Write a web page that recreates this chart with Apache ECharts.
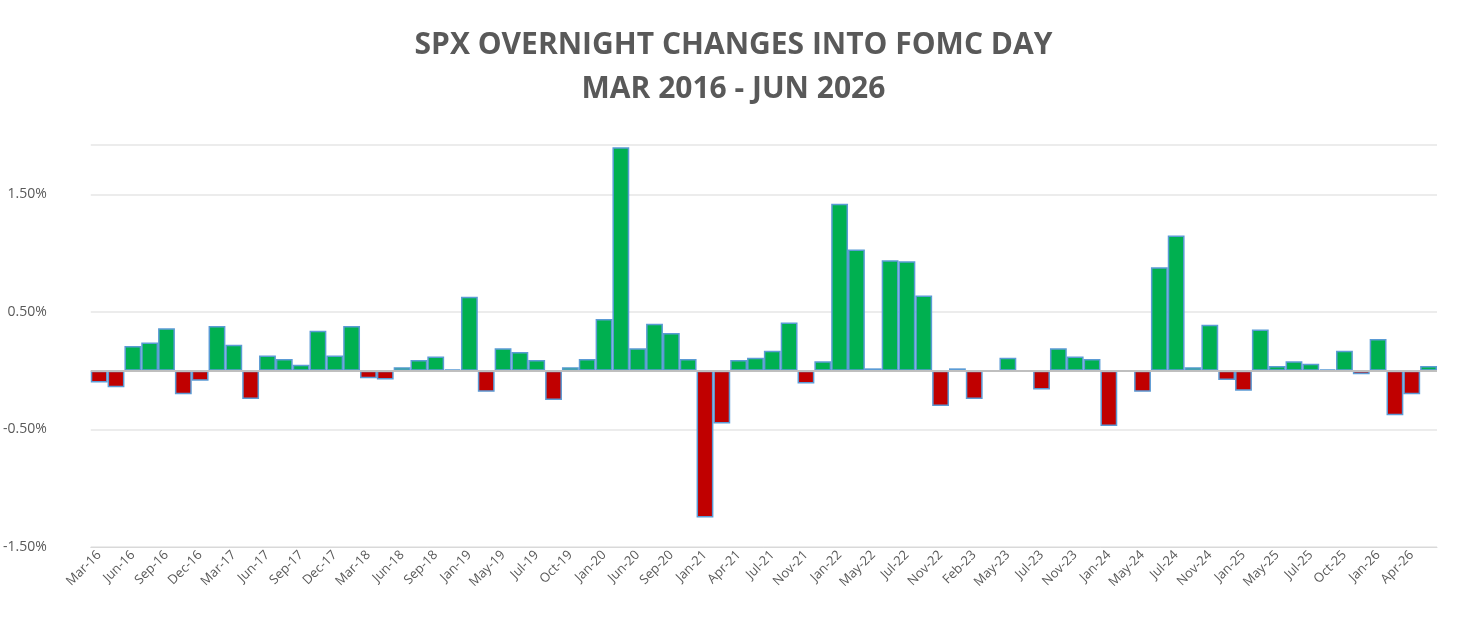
<!DOCTYPE html>
<html><head><meta charset="utf-8">
<script src="https://cdn.jsdelivr.net/npm/echarts@6/dist/echarts.min.js"></script>
<style>html,body{margin:0;background:#fff}#c{width:1467px;height:631px}</style>
</head><body><div id="c"></div>
<script>
const labels = ['Mar-16','Jun-16','Sep-16','Dec-16','Mar-17','Jun-17','Sep-17','Dec-17','Mar-18','Jun-18','Sep-18','Jan-19','May-19','Jul-19','Oct-19','Jan-20','Jun-20','Sep-20','Jan-21','Apr-21','Jul-21','Nov-21','Jan-22','May-22','Jul-22','Nov-22','Feb-23','May-23','Jul-23','Nov-23','Jan-24','May-24','Jul-24','Nov-24','Jan-25','May-25','Jul-25','Oct-25','Jan-26','Apr-26'];
const between = ['Apr-16','Jul-16','Nov-16','Feb-17','May-17','Jul-17','Nov-17','Jan-18','May-18','Aug-18','Dec-18','Mar-19','Jun-19','Sep-19','Dec-19','Mar-20','Jul-20','Dec-20','Mar-21','Jun-21','Sep-21','Dec-21','Mar-22','Jun-22','Sep-22','Dec-22','Mar-23','Jun-23','Sep-23','Dec-23','Mar-24','Jun-24','Sep-24','Dec-24','Mar-25','Jun-25','Sep-25','Dec-25','Mar-26','Jun-26'];
const categories = [];
labels.forEach((l,i)=>{categories.push(l);categories.push(between[i]);});
const values = [-0.10,-0.14,0.21,0.24,0.36,-0.20,-0.085,0.38,0.22,-0.24,
0.13,0.10,0.05,0.34,0.13,0.38,-0.065,-0.075,0.03,0.09,
0.12,0.01,0.63,-0.18,0.19,0.16,0.09,-0.25,0.03,0.10,
0.44,1.90,0.19,0.40,0.32,0.10,-1.25,-0.45,0.09,0.11,
0.17,0.41,-0.11,0.08,1.42,1.03,0.02,0.94,0.93,0.64,
-0.30,0.02,-0.24,-0.01,0.11,-0.01,-0.16,0.19,0.12,0.10,
-0.47,-0.01,-0.18,0.88,1.15,0.03,0.39,-0.08,-0.17,0.35,
0.04,0.08,0.06,0.01,0.17,-0.03,0.27,-0.38,-0.20,0.04];
const chart = echarts.init(document.getElementById('c'));
chart.setOption({
  animation:false,
  title:{text:'SPX OVERNIGHT CHANGES INTO FOMC DAY\nMAR 2016 - JUN 2026',left:'center',top:18,
    textStyle:{fontFamily:'Open Sans',fontWeight:'bold',fontSize:30,color:'#595959',lineHeight:44}},
  grid:{left:83,right:30,top:145,bottom:84},
  xAxis:{type:'category',data:categories,
    axisLine:{onZero:false,lineStyle:{color:'#d9d9d9'}},axisTick:{show:false},
    axisLabel:{interval:1,rotate:45,fontSize:13,color:'#595959',fontFamily:'Open Sans',margin:6}},
  yAxis:{type:'value',min:-1.5,max:1.92,interval:1,
    axisLabel:{showMaxLabel:false,formatter:v=>v.toFixed(2)+'%',fontSize:14,color:'#595959',fontFamily:'Open Sans',margin:44},
    splitLine:{lineStyle:{color:'#e6e6e6',width:1.5}},axisLine:{show:false}},
  series:[{type:'bar',data:values,barCategoryGap:'0%',
    itemStyle:{color:p=>p.value>=0?'#00b050':'#c00000',borderColor:'#5b9bd5',borderWidth:1.5},
    markLine:{silent:true,symbol:'none',label:{show:false},lineStyle:{color:'#bfbfbf',width:2,type:'solid'},data:[{yAxis:0}]}}]
});
</script></body></html>
